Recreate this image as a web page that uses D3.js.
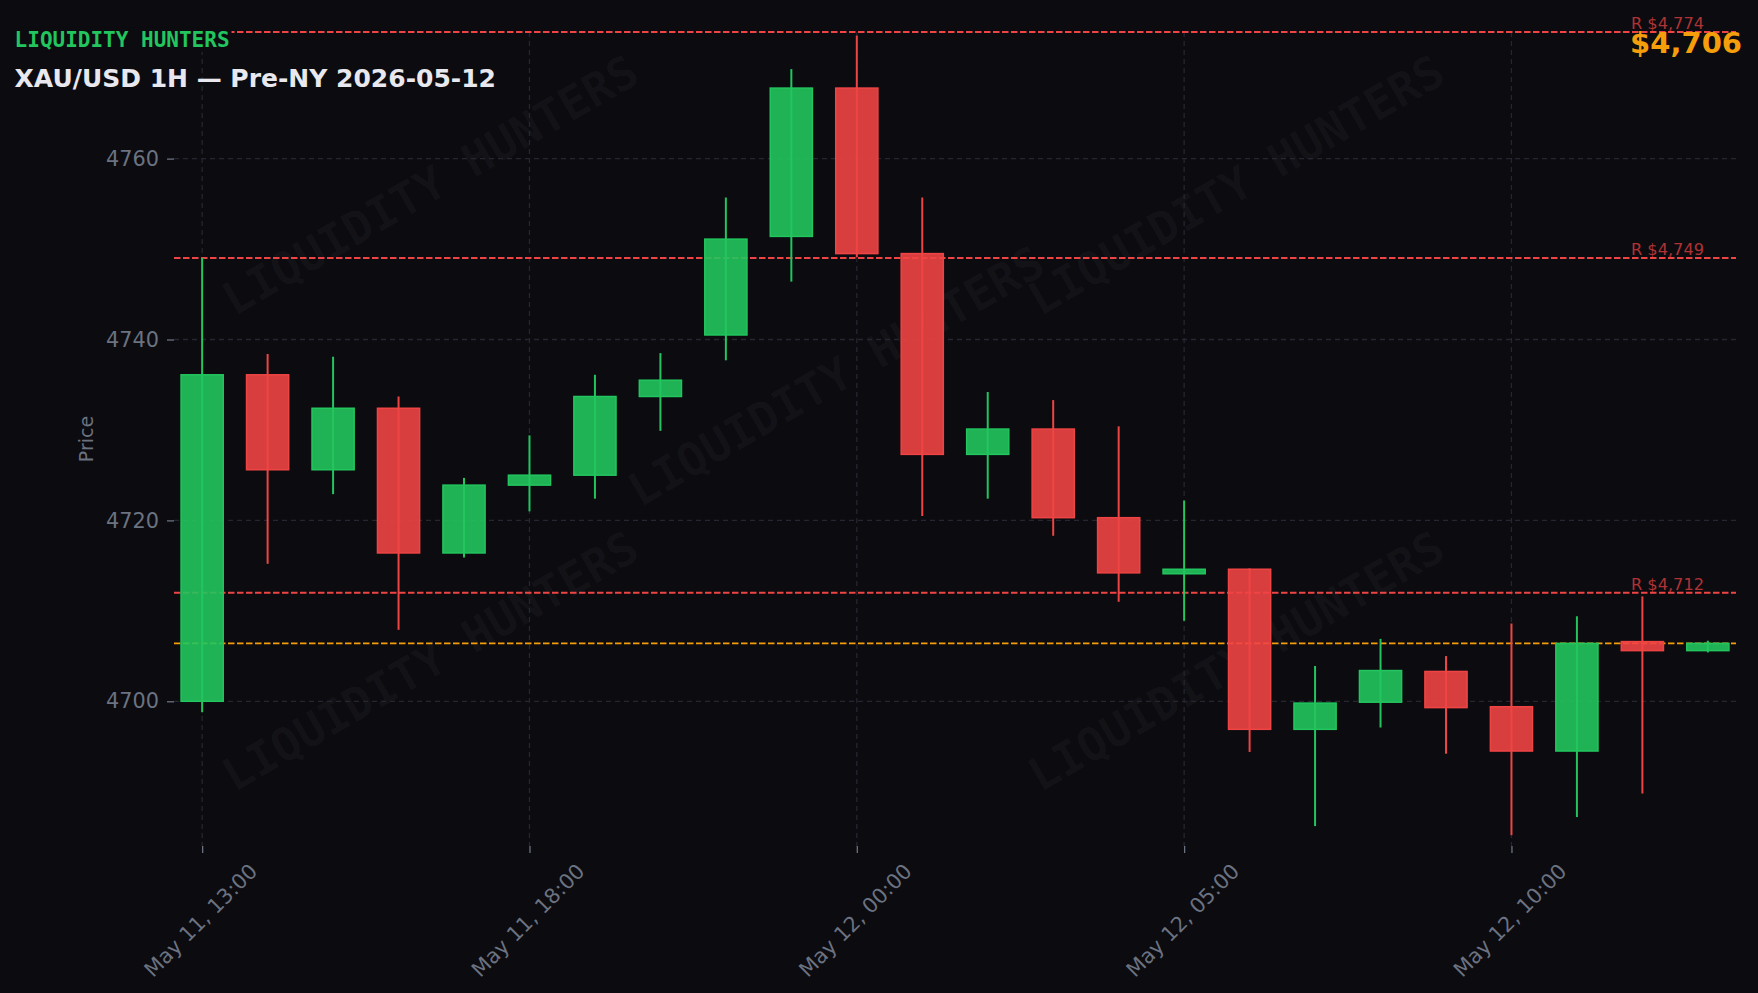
<!DOCTYPE html>
<html>
<head>
<meta charset="utf-8">
<script src="https://cdn.jsdelivr.net/npm/d3@7"></script>
<style>
  html, body { margin: 0; padding: 0; background: #0b0b10; }
  svg { display: block; }
</style>
</head>
<body>
<svg id="chart" width="1758" height="993"></svg>
<script>
// ---- data ----
const times = [
  "2026-05-11 13:00", "2026-05-11 14:00", "2026-05-11 15:00", "2026-05-11 16:00",
  "2026-05-11 17:00", "2026-05-11 18:00", "2026-05-11 19:00", "2026-05-11 20:00",
  "2026-05-11 22:00", "2026-05-11 23:00", "2026-05-12 00:00", "2026-05-12 01:00",
  "2026-05-12 02:00", "2026-05-12 03:00", "2026-05-12 04:00", "2026-05-12 05:00",
  "2026-05-12 06:00", "2026-05-12 07:00", "2026-05-12 08:00", "2026-05-12 09:00",
  "2026-05-12 10:00", "2026-05-12 11:00", "2026-05-12 12:00", "2026-05-12 13:00"
];
const opens  = [4700.0, 4736.1, 4725.6, 4732.4, 4716.4, 4723.9, 4725.0, 4733.7,
                4740.5, 4751.4, 4767.8, 4749.5, 4727.3, 4730.1, 4720.3, 4714.1,
                4714.6, 4696.9, 4699.9, 4703.3, 4699.4, 4694.5, 4706.6, 4705.6];
const highs  = [4749.0, 4738.4, 4738.1, 4733.7, 4724.7, 4729.4, 4736.1, 4738.5,
                4755.7, 4769.9, 4773.6, 4755.7, 4734.2, 4733.3, 4730.4, 4722.2,
                4714.7, 4703.9, 4706.9, 4705.0, 4708.6, 4709.4, 4711.6, 4706.7];
const lows   = [4698.8, 4715.2, 4722.9, 4707.9, 4715.9, 4721.0, 4722.4, 4729.9,
                4737.7, 4746.4, 4749.1, 4720.5, 4722.4, 4718.3, 4711.0, 4708.9,
                4694.4, 4686.2, 4697.1, 4694.2, 4685.2, 4687.2, 4689.8, 4705.4];
const closes = [4736.1, 4725.6, 4732.4, 4716.4, 4723.9, 4725.0, 4733.7, 4735.5,
                4751.1, 4767.8, 4749.5, 4727.3, 4730.1, 4720.3, 4714.2, 4714.6,
                4696.9, 4699.8, 4703.4, 4699.3, 4694.5, 4706.4, 4705.6, 4706.4];
const resistanceLevels = [4774, 4749, 4712];
const currentPrice = 4706.4;
const yTickValues = [4700, 4720, 4740, 4760];
const xTickIndices = [0, 5, 10, 15, 20];
const titleText = "XAU/USD 1H \u2014 Pre-NY 2026-05-12";
const brandText = "LIQUIDITY HUNTERS";
const yLabel = "Price";

// ---- layout ----
const W = 1758, H = 993;
const plot = { left: 174, right: 1736, top: 32, bottom: 846 };
const BG = "#0b0b10";
const GREEN = "#22c55e", RED = "#ef4444", ORANGE = "#f59e0b";
const GRAY = "#6b7280", GRID = "#25262f";

const parse = d3.timeParse("%Y-%m-%d %H:%M");
const fmtTick = d3.timeFormat("%b %d, %H:%M");
const candles = times.map((t, i) => ({
  i, t: parse(t), o: opens[i], h: highs[i], l: lows[i], c: closes[i]
}));

const svg = d3.select("#chart");
svg.append("rect").attr("width", W).attr("height", H).attr("fill", BG);

const x = d3.scaleLinear().domain([-0.43, candles.length - 1 + 0.43]).range([plot.left, plot.right]);
const y = d3.scaleLinear().domain([4684, 4774]).range([plot.bottom, plot.top]);

// watermarks
const wmPos = [[430, 185], [836, 376], [1236, 185], [430, 661], [1236, 661]];
svg.append("g").selectAll("text").data(wmPos).join("text")
  .attr("transform", d => `translate(${d[0]},${d[1]}) rotate(-30)`)
  .attr("text-anchor", "middle").attr("dy", "0.35em")
  .attr("font-family", "DejaVu Sans Mono").attr("font-weight", "bold")
  .attr("font-size", 46).attr("fill", "#ffffff").attr("fill-opacity", 0.035)
  .text(brandText);

// grid
const grid = svg.append("g");
grid.selectAll("line.h").data(yTickValues).join("line").attr("class", "h")
  .attr("x1", plot.left).attr("x2", plot.right)
  .attr("y1", d => y(d)).attr("y2", d => y(d))
  .attr("stroke", GRID).attr("stroke-width", 1.3).attr("stroke-dasharray", "5,4");
grid.selectAll("line.v").data(xTickIndices).join("line").attr("class", "v")
  .attr("x1", d => x(d)).attr("x2", d => x(d))
  .attr("y1", plot.top).attr("y2", plot.bottom)
  .attr("stroke", GRID).attr("stroke-width", 1.3).attr("stroke-dasharray", "5,4");

// y axis
const yAxis = d3.axisLeft(y).tickValues(yTickValues).tickFormat(d3.format("d")).tickSize(7).tickPadding(8);
const gy = svg.append("g").attr("transform", `translate(${plot.left},0)`).call(yAxis);
gy.select(".domain").remove();
gy.selectAll(".tick line").attr("stroke", GRAY).attr("stroke-width", 1.3);
gy.selectAll(".tick text").attr("fill", GRAY).attr("font-family", "DejaVu Sans").attr("font-size", 20.8);

// x axis
const xAxis = d3.axisBottom(x).tickValues(xTickIndices).tickFormat(i => fmtTick(candles[i].t)).tickSize(7).tickPadding(0);
const gx = svg.append("g").attr("transform", `translate(0,${plot.bottom})`).call(xAxis);
gx.select(".domain").remove();
gx.selectAll(".tick line").attr("stroke", GRAY).attr("stroke-width", 1.3);
gx.selectAll(".tick text")
  .attr("fill", GRAY).attr("font-family", "DejaVu Sans").attr("font-size", 20.8)
  .attr("text-anchor", "middle").attr("dy", "0.35em").attr("y", 0)
  .each(function() {
    const w = this.getComputedTextLength();
    const side = (w + 24) / Math.SQRT2;
    d3.select(this).attr("transform", `translate(-2,${13 + side / 2}) rotate(-45)`);
  });

// y label
svg.append("text")
  .attr("transform", `translate(86,${(plot.top + plot.bottom) / 2}) rotate(-90)`)
  .attr("text-anchor", "middle").attr("dy", "0.35em")
  .attr("font-family", "DejaVu Sans").attr("font-size", 19).attr("fill", GRAY)
  .text(yLabel);

// resistance lines
const rl = svg.append("g");
rl.selectAll("line").data(resistanceLevels).join("line")
  .attr("x1", plot.left).attr("x2", plot.right)
  .attr("y1", d => y(d)).attr("y2", d => y(d))
  .attr("stroke", RED).attr("stroke-width", 2).attr("stroke-dasharray", "6.5,2.5");
rl.selectAll("text").data(resistanceLevels).join("text")
  .attr("x", 1704).attr("y", d => y(d) - 3)
  .attr("text-anchor", "end")
  .attr("font-family", "DejaVu Sans").attr("font-size", 16.2)
  .attr("fill", RED).attr("fill-opacity", 0.72)
  .text(d => "R $" + d3.format(",.0f")(d));

// current price line
svg.append("line")
  .attr("x1", plot.left).attr("x2", plot.right)
  .attr("y1", y(currentPrice)).attr("y2", y(currentPrice))
  .attr("stroke", ORANGE).attr("stroke-width", 1.8).attr("stroke-dasharray", "6.5,2.5");

// candles
const step = x(1) - x(0);
const bodyW = step * 0.667;
const cg = svg.append("g").selectAll("g").data(candles).join("g");
cg.append("line")
  .attr("x1", d => x(d.i)).attr("x2", d => x(d.i))
  .attr("y1", d => y(d.h)).attr("y2", d => y(d.l))
  .attr("stroke", d => d.c >= d.o ? GREEN : RED).attr("stroke-width", 2);
cg.append("rect")
  .attr("x", d => x(d.i) - bodyW / 2 + 0.75)
  .attr("width", bodyW - 1.5)
  .attr("y", d => y(Math.max(d.o, d.c)))
  .attr("height", d => Math.max(1.5, Math.abs(y(d.o) - y(d.c))))
  .attr("fill", d => d.c >= d.o ? GREEN : RED).attr("fill-opacity", 0.9)
  .attr("stroke", d => d.c >= d.o ? GREEN : RED).attr("stroke-width", 1.5);

// brand + title
const brand = svg.append("g");
const brandBg = brand.append("rect").attr("fill", BG);
const brandT = brand.append("text")
  .attr("x", 14.6).attr("y", 46.7)
  .attr("font-family", "DejaVu Sans Mono").attr("font-weight", "bold")
  .attr("font-size", 21).attr("fill", GREEN)
  .text(brandText);
const bb = brandT.node().getBBox();
brandBg.attr("x", bb.x - 2).attr("y", bb.y).attr("width", bb.width + 4).attr("height", bb.height);

svg.append("text")
  .attr("x", 14.6).attr("y", 87.3)
  .attr("font-family", "DejaVu Sans").attr("font-weight", "bold")
  .attr("font-size", 25).attr("fill", "#e8e8ee")
  .text(titleText);

svg.append("text")
  .attr("x", 1742).attr("y", 52.5)
  .attr("text-anchor", "end")
  .attr("font-family", "DejaVu Sans").attr("font-weight", "bold")
  .attr("font-size", 29).attr("fill", ORANGE)
  .text("$" + d3.format(",.0f")(currentPrice));
</script>
</body>
</html>
